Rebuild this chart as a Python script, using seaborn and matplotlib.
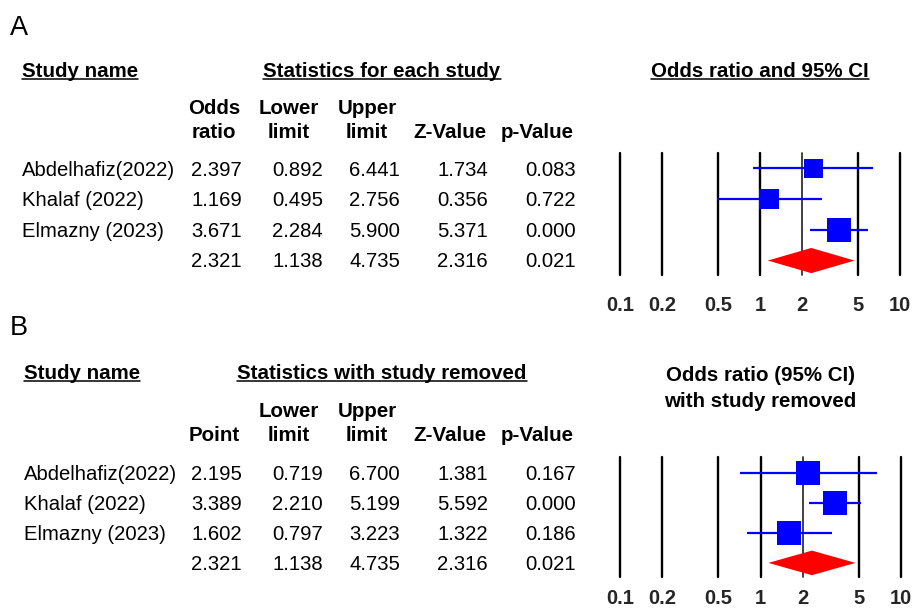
import numpy as np
import pandas as pd
import matplotlib
matplotlib.use("Agg")
import matplotlib.pyplot as plt
from matplotlib.lines import Line2D
from matplotlib.ticker import NullLocator
import seaborn as sns

# ---------------- data ----------------
studies = ["Abdelhafiz(2022)", "Khalaf (2022)", "Elmazny (2023)"]

a_or = [2.397, 1.169, 3.671]
a_lower = [0.892, 0.495, 2.284]
a_upper = [6.441, 2.756, 5.900]
a_z = [1.734, 0.356, 5.371]
a_p = [0.083, 0.722, 0.000]

b_point = [2.195, 3.389, 1.602]
b_lower = [0.719, 2.210, 0.797]
b_upper = [6.700, 5.199, 3.223]
b_z = [1.381, 5.592, 1.322]
b_p = [0.167, 0.000, 0.186]

pooled_or = 2.321
pooled_lower = 1.138
pooled_upper = 4.735
pooled_z = 2.316
pooled_p = 0.021

tick_values = [0.1, 0.2, 0.5, 1, 2, 5, 10]
tick_labels = ["0.1", "0.2", "0.5", "1", "2", "5", "10"]

# ---------------- style ----------------
sns.set_style("white")
plt.rcParams["font.family"] = ["Liberation Sans", "DejaVu Sans"]

W, H = 917, 614
fig = plt.figure(figsize=(W / 100, H / 100), dpi=100)
fig.patch.set_facecolor("white")

REG = 14.6
BOLD = 14.8


def fx(x):
    return x / W


def fy(y):
    return 1 - y / H


def T(x, y, s, ha="left", bold=False, size=None, baseline=True):
    sz = size if size is not None else (BOLD if bold else REG)
    em = sz * 100 / 72.0
    yy = y + 0.358 * em if baseline else y
    return fig.text(fx(x), fy(yy), s, ha=ha, va="baseline",
                    fontsize=sz, fontweight="bold" if bold else "normal",
                    color="black")


underlined = []

col_right = [242, 323, 400, 488, 576]
hdr_center = [214, 289, 367, 450, 537]


def table(py, label, stats_title, col0_hdr, vals, forest_title_lines, forest_uline):
    T(10, py["label"], label, size=19.5, baseline=True)
    t1 = T(22 if label == "A" else 24, py["head"], "Study name", bold=True)
    t2 = T(382, py["head"], stats_title, ha="center", bold=True)
    underlined.append((t1, py["uline"]))
    underlined.append((t2, py["uline"]))
    # forest title
    for (txt, yy) in forest_title_lines:
        tt = T(760, yy, txt, ha="center", bold=True)
        if forest_uline:
            underlined.append((tt, py["uline"]))
    # column headers
    hdrs = [col0_hdr, ("Lower", "limit"), ("Upper", "limit"), (None, "Z-Value"), (None, "p-Value")]
    for c, (h1, h2) in zip(hdr_center, hdrs):
        if h1:
            T(c, py["hdr1"], h1, ha="center", bold=True)
        T(c, py["hdr2"], h2, ha="center", bold=True)
    # rows
    est, lo, hi, z, p = vals
    for i, name in enumerate(studies):
        y = py["rows"][i]
        T(22 if label == "A" else 24, y, name)
        for c, v in zip(col_right, [est[i], lo[i], hi[i], z[i], p[i]]):
            T(c, y, f"{v:.3f}", ha="right")
    y = py["rows"][3]
    for c, v in zip(col_right, [pooled_or, pooled_lower, pooled_upper, pooled_z, pooled_p]):
        T(c, y, f"{v:.3f}", ha="right")


def forest(box, est, lo, hi, box_px, ylim, pad):
    x0, x1, top, bot = box
    ax = fig.add_axes([fx(x0), fy(bot), (x1 - x0) / W, (bot - top) / H])
    ax.set_facecolor("none")
    n = len(est)
    rows = np.arange(n)
    for v in tick_values:
        if v == 2:
            ax.axvline(v, color="#333333", lw=1.3, clip_on=False, zorder=1)
        else:
            ax.axvline(v, color="black", lw=1.7, clip_on=False, zorder=1)
    ax.hlines(rows, lo, hi, color="blue", lw=1.6, zorder=2)
    df = pd.DataFrame({"est": est, "row": rows})
    areas = [(b * 0.72) ** 2 for b in box_px]
    sns.scatterplot(data=df, x="est", y="row", marker="s", s=areas,
                    color="blue", edgecolor="blue", linewidth=0,
                    legend=False, ax=ax, zorder=3)
    hh = 0.41
    ax.fill([pooled_lower, pooled_or, pooled_upper, pooled_or],
            [n, n - hh, n, n + hh], color="red", lw=0, zorder=3)
    ax.set_xscale("log")
    ax.set_xlim(0.1, 10)
    ax.set_ylim(*ylim)
    ax.set_xticks(tick_values)
    ax.set_xticklabels(tick_labels, fontweight="bold", fontsize=14.5)
    ax.xaxis.set_minor_locator(NullLocator())
    ax.tick_params(axis="x", length=0, pad=pad)
    ax.set_yticks([])
    ax.set_xlabel("")
    ax.set_ylabel("")
    for s in ax.spines.values():
        s.set_visible(False)
    return ax


# ---------------- panel A ----------------
pyA = dict(label=25, head=70, uline=79, hdr1=107, hdr2=131, rows=[169, 199, 230, 260])
table(pyA, "A", "Statistics for each study", ("Odds", "ratio"),
      (a_or, a_lower, a_upper, a_z, a_p),
      [("Odds ratio and 95% CI", 70)], True)
forest((620, 900, 153, 275), a_or, a_lower, a_upper, [19, 20, 24], (3.47, -0.5), 15)

# ---------------- panel B ----------------
pyB = dict(label=325, head=372, uline=381, hdr1=410, hdr2=434, rows=[473, 503, 533, 563])
table(pyB, "B", "Statistics with study removed", (None, "Point"),
      (b_point, b_lower, b_upper, b_z, b_p),
      [("Odds ratio (95% CI)", 374), ("with study removed", 400)], False)
forest((620, 901, 457, 577), b_point, b_lower, b_upper, [24, 24, 24], (3.47, -0.53), 9)

# ---------------- underlines ----------------
renderer = fig.canvas.get_renderer()
for t, yy in underlined:
    bb = t.get_window_extent(renderer)
    fig.add_artist(Line2D([bb.x0 / W, bb.x1 / W], [fy(yy), fy(yy)],
                          transform=fig.transFigure, color="black", lw=1.1))

fig.savefig("out.png", dpi=100, facecolor="white")
